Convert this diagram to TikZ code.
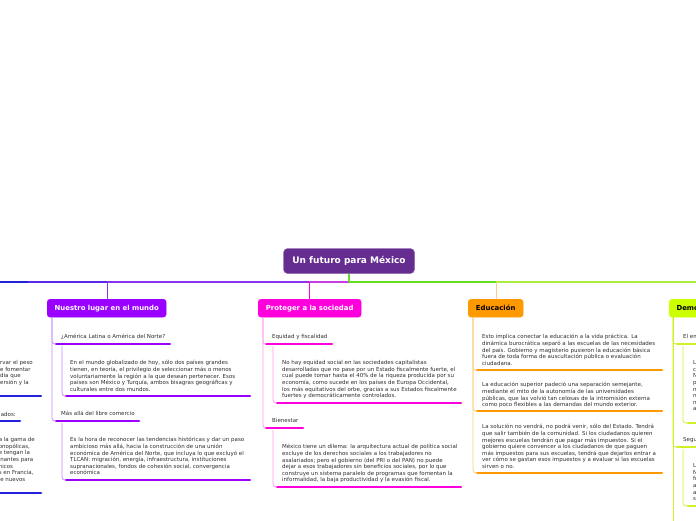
\documentclass[tikz,border=0pt]{standalone}
\usepackage{fontspec}
\setmainfont{DejaVu Sans}
\definecolor{rootc}{RGB}{102,45,145}
\definecolor{violetc}{RGB}{153,0,255}
\definecolor{violetl}{RGB}{200,140,255}
\definecolor{magc}{RGB}{255,0,221}
\definecolor{magl}{RGB}{255,150,240}
\definecolor{orc}{RGB}{255,153,0}
\definecolor{orl}{RGB}{255,205,130}
\definecolor{limec}{RGB}{204,255,0}
\definecolor{limel}{RGB}{210,240,40}
\definecolor{bluec}{RGB}{34,34,221}
\definecolor{bluev}{RGB}{90,40,235}
\definecolor{violm}{RGB}{136,51,238}
\definecolor{pinkv}{RGB}{200,60,230}
\definecolor{greenc}{RGB}{102,221,34}
\definecolor{greenl}{RGB}{170,238,68}
\definecolor{txt}{RGB}{45,45,45}
\newcommand{\tp}{\rule{0pt}{4.3pt}}
\begin{document}
\begin{tikzpicture}[x=1pt,y=-1pt,
  rootbox/.style={fill=rootc, draw=rootc!70!white, rounded corners=4pt, text=white,
    font=\fontsize{9}{10}\selectfont\bfseries, minimum height=25pt, minimum width=131pt, inner xsep=4pt, line width=0.5pt},
  topicbox/.style={rounded corners=3pt, font=\fontsize{6.9}{8}\selectfont\bfseries,
    minimum height=18pt, inner xsep=4pt, anchor=north west},
  subt/.style={anchor=north west, inner sep=0pt, font=\fontsize{5.5}{6.6}\selectfont, text=txt},
  para/.style={anchor=north west, inner sep=0pt, align=left, font=\fontsize{5.5}{6.6}\selectfont, text=txt},
  uline/.style={line width=2.5pt, line cap=round},
  conn/.style={line width=0.8pt, rounded corners=3pt},
  hline/.style={line width=1.5pt},
]
\useasboundingbox (0,0) rectangle (696,520);
\clip (0,0) rectangle (696,520);

% root
\node[rootbox] (root) at (349,261) {Un futuro para México};

% main horizontal line
\coordinate (h0) at (-5,282);
\coordinate (h1) at (28,282);
\coordinate (h2) at (107,282);
\coordinate (h3) at (309,282);
\coordinate (hr) at (349,282);
\coordinate (h4) at (496,282);
\coordinate (h5) at (701,282);
\draw[hline,bluec] (h0) -- (h1);
\draw[hline,bluev] (h1) -- (h2);
\draw[hline,violm] (h2) -- (h3);
\draw[hline,pinkv] (h3) -- (hr);
\draw[hline,greenc] (hr) -- (h4);
\draw[hline,greenl] (h4) -- (h5);
\draw[line width=2pt,greenc] (root.south) -- (hr);

% level-1 topics
\node[topicbox, fill=violetc, draw=violetc, text=white, minimum width=119pt] (n1) at (47,299) {Nuestro lugar en el mundo};
\node[topicbox, fill=magc, draw=magc, text=white, minimum width=103pt] (n2) at (258,299) {Proteger a la sociedad};
\node[topicbox, fill=orc, draw=orc, text=black, minimum width=55pt] (n3) at (468,299) {Educación};
\node[topicbox, fill=limec, draw=limec, text=black, minimum width=60pt, anchor=north west] (n4) at (669,299) {Demografía};

\draw[conn,violm] (h2) -- (n1.north -| h2);
\draw[conn,magc] (h3) -- (n2.north -| h3);
\draw[conn,orl] (h4) -- (n3.north -| h4);

% ---------------- Nuestro lugar en el mundo
\node[subt] (s11) at (61,334.2) {\tp¿América Latina o América del Norte?};
\coordinate (u11) at (56,344);
\draw[uline,violetc] (u11) -- ++(114,0);
\node[para] (p11) at (70,360.2) {\tp En el mundo globalizado de hoy, sólo dos países grandes\\
tienen, en teoría, el privilegio de seleccionar más o menos\\
voluntariamente la región a la que desean pertenecer. Esos\\
países son México y Turquía, ambos bisagras geográficas y\\
culturales entre dos mundos.};
\coordinate (v11) at (66,396);
\draw[uline,violetc] (v11) -- ++(184,0);

\node[subt] (s12) at (61,411.2) {\tp Más allá del libre comercio};
\coordinate (u12) at (56,421);
\draw[uline,violetc] (u12) -- ++(83,0);
\node[para] (p12) at (70,437.2) {\tp Es la hora de reconocer las tendencias históricas y dar un paso\\
ambicioso más allá, hacia la construcción de una unión\\
económica de América del Norte, que incluya lo que excluyó el\\
TLCAN: migración, energía, infraestructura, instituciones\\
supranacionales, fondos de cohesión social, convergencia\\
económica};
\coordinate (v12) at (66,480);
\draw[uline,violetc] (v12) -- ++(184,0);

\draw[conn,violetl] ([xshift=5pt]n1.south west) |- (u11);
\draw[conn,violetl] ([xshift=5pt]n1.south west) |- (u12);
\draw[conn,violetl] ([xshift=6pt,yshift=-2pt]u11) |- (v11);
\draw[conn,violetl] ([xshift=6pt,yshift=-2pt]u12) |- (v12);

% ---------------- Proteger a la sociedad
\node[subt] (s21) at (272,334.2) {\tp Equidad y fiscalidad};
\coordinate (u21) at (266,344);
\draw[uline,magc] (u21) -- ++(66,0);
\node[para] (p21) at (282,360.2) {\tp No hay equidad social en las sociedades capitalistas\\
desarrolladas que no pase por un Estado fiscalmente fuerte, el\\
cual puede tomar hasta el 40\% de la riqueza producida por su\\
economía, como sucede en los países de Europa Occidental,\\
los más equitativos del orbe, gracias a sus Estados fiscalmente\\
fuertes y democráticamente controlados.};
\coordinate (v21) at (277,403);
\draw[uline,magc] (v21) -- ++(184,0);

\node[subt] (s22) at (272,418.2) {\tp Bienestar};
\coordinate (u22) at (266,428);
\draw[uline,magc] (u22) -- ++(37,0);
\node[para] (p22) at (282,444.2) {\tp México tiene un dilema: la arquitectura actual de política social\\
excluye de los derechos sociales a los trabajadores no\\
asalariados; pero el gobierno (del PRI o del PAN) no puede\\
dejar a esos trabajadores sin beneficios sociales, por lo que\\
construye un sistema paralelo de programas que fomentan la\\
informalidad, la baja productividad y la evasión fiscal.};
\coordinate (v22) at (277,487);
\draw[uline,magc] (v22) -- ++(184,0);

\draw[conn,magl] ([xshift=5pt]n2.south west) |- (u21);
\draw[conn,magl] ([xshift=5pt]n2.south west) |- (u22);
\draw[conn,magl] ([xshift=7pt,yshift=-2pt]u21) |- (v21);
\draw[conn,magl] ([xshift=7pt,yshift=-2pt]u22) |- (v22);

% ---------------- Educación
\node[para] (p31) at (482,334.2) {\tp Esto implica conectar la educación a la vida práctica. La\\
dinámica burocrática separó a las escuelas de las necesidades\\
del país. Gobierno y magisterio pusieron la educación básica\\
fuera de toda forma de auscultación pública o evaluación\\
ciudadana.};
\coordinate (v31) at (477,370);
\draw[uline,orc] (v31) -- ++(185,0);
\node[para] (p32) at (482,382.2) {\tp La educación superior padeció una separación semejante,\\
mediante el mito de la autonomía de las universidades\\
públicas, que las volvió tan celosas de la intromisión externa\\
como poco flexibles a las demandas del mundo exterior.};
\coordinate (v32) at (477,411);
\draw[uline,orc] (v32) -- ++(185,0);
\node[para] (p33) at (482,424.2) {\tp La solución no vendrá, no podrá venir, sólo del Estado. Tendrá\\
que salir también de la comunidad. Si los ciudadanos quieren\\
mejores escuelas tendrán que pagar más impuestos. Si el\\
gobierno quiere convencer a los ciudadanos de que paguen\\
más impuestos para sus escuelas, tendrá que dejarlos entrar a\\
ver cómo se gastan esos impuestos y a evaluar si las escuelas\\
sirven o no.};
\coordinate (v33) at (477,473);
\draw[uline,orc] (v33) -- ++(185,0);

\draw[conn,orl] ([xshift=5pt]n3.south west) |- (v31);
\draw[conn,orl] ([xshift=5pt]n3.south west) |- (v32);
\draw[conn,orl] ([xshift=5pt]n3.south west) |- (v33);

% ---------------- Demografía (cut at right edge)
\node[subt] (s41) at (683,334.2) {\tp El empleo};
\coordinate (u41) at (677,344);
\draw[uline,limel] (u41) -- ++(30,0);
\node[para] (p41) at (693,360.2) {\tp L\\c\\N\\p\\n\\n\\n\\a\\ };
\coordinate (v41) at (688,423);
\draw[uline,limel] (v41) -- ++(20,0);
\node[subt] (s42) at (683,437.2) {\tp Seguridad};
\coordinate (u42) at (677,447);
\draw[uline,limel] (u42) -- ++(30,0);
\node[para] (p42) at (693,463.2) {\tp L\\N\\fr\\a\\a\\s};
\coordinate (v42) at (688,506);
\draw[uline,limel] (v42) -- ++(20,0);
\coordinate (d4) at ([xshift=4pt]n4.south west |- 0,525);
\draw[conn,limel] ([xshift=4pt]n4.south west) -- (d4);
\draw[conn,limel] ([xshift=4pt]n4.south west) |- (u41);
\draw[conn,limel] ([xshift=4pt]n4.south west) |- (u42);
\draw[conn,limel] ([xshift=6pt,yshift=-2pt]u41) |- (v41);
\draw[conn,limel] ([xshift=6pt,yshift=-2pt]u42) |- (v42);

% ---------------- far-left branch (cut at left edge)
\node[para, anchor=north east] (p51) at (33,360.2) {\tp rvar el peso\\e fomentar\\dia que\\ersión y la};
\coordinate (v51) at (41,396);
\draw[uline,bluec] (v51) -- ++(-50,0);
\node[subt, anchor=north east] (s52) at (16,412.2) {\tp ados:};
\coordinate (u52) at (20,421);
\draw[uline,bluec] (u52) -- ++(-30,0);
\node[para, anchor=north east] (p52) at (35,437.2) {\tp a la gama de\\onopólicas,\\e tengan la\\inantes para\\nicos\\s en Francia,\\le nuevos};
\coordinate (v52) at (41,493);
\draw[uline,bluec] (v52) -- ++(-50,0);
\end{tikzpicture}
\end{document}
